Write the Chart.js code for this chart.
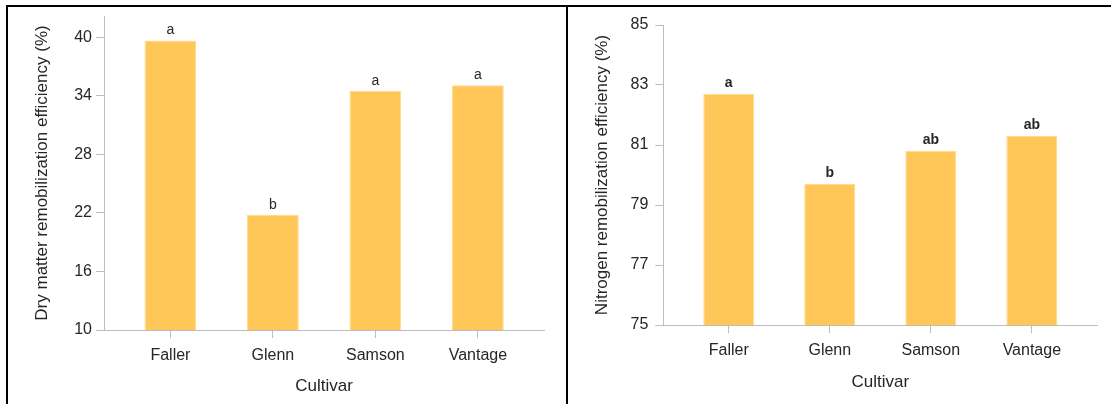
<!DOCTYPE html>
<html>
<head>
<meta charset="utf-8">
<script src="https://cdn.jsdelivr.net/npm/chart.js@4.4.1/dist/chart.umd.min.js"></script>
<style>
  html, body { margin: 0; padding: 0; background: #fff; width: 1111px; height: 404px; overflow: hidden; }
  .rule { position: absolute; background: #000; }
  canvas { position: absolute; }
</style>
</head>
<body>
<!-- table rules framing the two panels -->
<div class="rule" style="left:6px; top:5px; width:1105px; height:2px;"></div>
<div class="rule" style="left:6px; top:5px; width:2px; height:399px;"></div>
<div class="rule" style="left:566px; top:5px; width:2px; height:399px;"></div>

<canvas id="dryMatter" width="558" height="397" style="left:8px; top:7px;"></canvas>
<canvas id="nitrogen" width="543" height="397" style="left:568px; top:7px;"></canvas>

<script>
// Cultivars on the x axis
const cultivars = ['Faller', 'Glenn', 'Samson', 'Vantage'];

// Dry matter remobilization efficiency (%)
const dryMatterEfficiency = [39.7, 21.8, 34.5, 35.1];
const dryMatterLetters = ['a', 'b', 'a', 'a'];
const dryMatterTicks = [10, 16, 22, 28, 34, 40];

// Nitrogen remobilization efficiency (%)
const nitrogenEfficiency = [82.7, 79.7, 80.8, 81.3];
const nitrogenLetters = ['a', 'b', 'ab', 'ab'];
const nitrogenTicks = [75, 77, 79, 81, 83, 85];

const FONT = "'Liberation Sans', Arial, sans-serif";
const AXIS_GREY = '#bdbdbd';
const TEXT = '#262626';
const BAR_FILL = '#ffc658';
const BAR_EDGE = '#ffdb8e';

// Significance letters written above each bar
const letterPlugin = {
  id: 'letterLabels',
  afterDatasetsDraw(chart, args, opts) {
    const { ctx } = chart;
    const meta = chart.getDatasetMeta(0);
    ctx.save();
    ctx.font = opts.font;
    ctx.fillStyle = opts.color;
    ctx.textAlign = 'center';
    ctx.textBaseline = 'alphabetic';
    meta.data.forEach((bar, i) => {
      ctx.fillText(opts.letters[i], bar.x, bar.y - opts.gap);
    });
    ctx.restore();
  }
};

function makeChart(id, cfg) {
  const positions = cultivars.map((_, i) => i);
  const points = cfg.values.map((v, i) => ({ x: positions[i], y: v }));
  const edge = 0.648;

  return new Chart(document.getElementById(id), {
    type: 'bar',
    data: {
      datasets: [{
        data: points,
        backgroundColor: BAR_FILL,
        borderColor: BAR_EDGE,
        borderWidth: 1,
        categoryPercentage: 1,
        barPercentage: 0.505
      }]
    },
    options: {
      responsive: false,
      animation: false,
      events: [],
      layout: { padding: cfg.padding },
      plugins: {
        legend: { display: false },
        tooltip: { enabled: false },
        letterLabels: { letters: cfg.letters, font: cfg.letterFont, color: TEXT, gap: cfg.letterGap }
      },
      scales: {
        x: {
          type: 'linear',
          offset: false,
          min: positions[0] - edge,
          max: positions[positions.length - 1] + edge,
          afterBuildTicks: s => { s.ticks = positions.map(v => ({ value: v })); },
          afterFit: s => { s.height = cfg.xHeight; s.paddingLeft = 0; s.paddingRight = 0; },
          grid: { display: true, offset: false, drawOnChartArea: false, drawTicks: true, tickLength: 8, color: AXIS_GREY },
          border: { display: true, color: AXIS_GREY, width: 1 },
          ticks: {
            padding: 8, color: TEXT, autoSkip: false, maxRotation: 0,
            font: { family: FONT, size: 16 },
            callback: v => cultivars[v]
          },
          title: {
            display: true, text: 'Cultivar', color: TEXT,
            font: { family: FONT, size: 17 },
            padding: { top: 0, bottom: cfg.xTitlePad }
          }
        },
        y: {
          min: cfg.min,
          max: cfg.max,
          afterBuildTicks: s => { s.ticks = cfg.ticks.map(v => ({ value: v })); },
          afterFit: s => { s.width = cfg.yWidth; s.paddingTop = 0; s.paddingBottom = 0; },
          grid: { display: true, drawOnChartArea: false, drawTicks: true, tickLength: 8, color: AXIS_GREY },
          border: { display: true, color: AXIS_GREY, width: 1 },
          ticks: { padding: cfg.yTickPad, color: TEXT, font: { family: FONT, size: 16 } },
          title: {
            display: true, text: cfg.yTitle, color: TEXT,
            font: { family: FONT, size: 17 },
            padding: { top: 23.8, bottom: 0 }
          }
        }
      }
    },
    plugins: [letterPlugin]
  });
}

makeChart('dryMatter', {
  values: dryMatterEfficiency,
  letters: dryMatterLetters,
  ticks: dryMatterTicks,
  min: 10,
  max: 42.2,
  yTitle: 'Dry matter remobilization efficiency (%)',
  padding: { left: 0, top: 9, right: 21.7, bottom: 0 },
  xHeight: 74,
  yWidth: 96,
  yTickPad: 4,
  xTitlePad: 7.1,
  letterFont: "14px 'Liberation Sans', Arial, sans-serif",
  letterGap: 6
});

makeChart('nitrogen', {
  values: nitrogenEfficiency,
  letters: nitrogenLetters,
  ticks: nitrogenTicks,
  min: 75,
  max: 85,
  yTitle: 'Nitrogen remobilization efficiency (%)',
  padding: { left: 0, top: 18, right: 13.7, bottom: 0 },
  xHeight: 79,
  yWidth: 95.3,
  yTickPad: 7,
  xTitlePad: 11.8,
  letterFont: "bold 14px 'Liberation Sans', Arial, sans-serif",
  letterGap: 7
});
</script>
</body>
</html>
